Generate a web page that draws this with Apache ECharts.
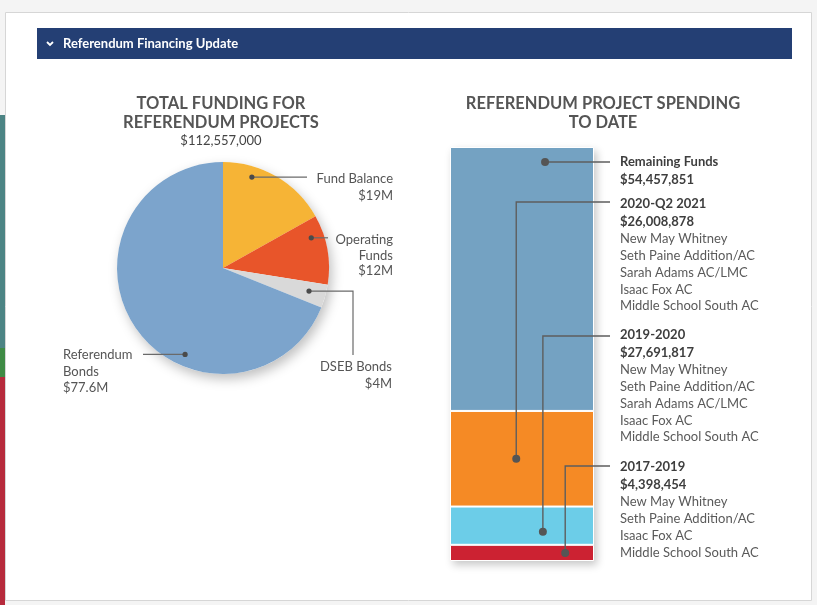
<!DOCTYPE html>
<html>
<head>
<meta charset="utf-8">
<script src="https://cdn.jsdelivr.net/npm/echarts@6/dist/echarts.min.js"></script>
<style>
html,body{margin:0;padding:0;background:#f4f4f4;}
#chart{width:817px;height:605px;}
</style>
</head>
<body>
<div id="chart"></div>
<script>
// ---------------- data ----------------
const pageTitle = 'Referendum Financing Update';
const pieTitle = ['TOTAL FUNDING FOR', 'REFERENDUM PROJECTS'];
const pieTotalText = '$112,557,000';
const fundingNames = ['Fund Balance', 'Operating Funds', 'DSEB Bonds', 'Referendum Bonds'];
const fundingValues = [19, 12, 4, 77.6];            // $M
const fundingLabels = [
  ['Fund Balance', '$19M'],
  ['Operating', 'Funds', '$12M'],
  ['DSEB Bonds', '$4M'],
  ['Referendum', 'Bonds', '$77.6M']
];
const barTitle = ['REFERENDUM PROJECT SPENDING', 'TO DATE'];
// stacked bar, bottom to top
const spendNames = ['2017-2019', '2019-2020', '2020-Q2 2021', 'Remaining Funds'];
const spendBarValues = [4.4, 10.4, 26.0, 71.75];    // segment heights as drawn ($M)
const spendAmounts = ['$4,398,454', '$27,691,817', '$26,008,878', '$54,457,851'];
const spendProjects = [
  ['New May Whitney', 'Seth Paine Addition/AC', 'Isaac Fox AC', 'Middle School South AC'],
  ['New May Whitney', 'Seth Paine Addition/AC', 'Sarah Adams AC/LMC', 'Isaac Fox AC', 'Middle School South AC'],
  ['New May Whitney', 'Seth Paine Addition/AC', 'Sarah Adams AC/LMC', 'Isaac Fox AC', 'Middle School South AC'],
  []
];

// ---------------- layout / style ----------------
const FONT = 'Lato, "Open Sans", sans-serif';
const pieColors = ['#F6B436', '#E8552A', '#D9D9D9', '#7CA4CC'];
const barColors = ['#CC2232', '#6CCDE8', '#F58A25', '#74A2C2'];
const PIE = { cx: 223, cy: 268, r: 106 };
const GRID = { left: 450, top: 147, width: 144, bottom: 44 };
// anchor of each pie annotation inside its slice and where its text sits
const pieAnno = [
  { frac: 0.29, rr: 0.90, lineTo: [[307, null]], tx: 393, ty: [179, 196], align: 'right' },
  { frac: 0.27, rr: 0.88, lineTo: [[328, null]], tx: 393, ty: [240, 255.5, 271], align: 'right' },
  { frac: 0.46, rr: 0.84, lineTo: [[353, null], [353, 355]], tx: 392, ty: [367, 383.5], align: 'right' },
  { frac: 0.37, rr: 0.89, lineTo: [[143, null]], tx: 63, ty: [355, 371.5, 388], align: 'left' }
];
// bar annotations (bottom to top)
const barAnno = [
  { fx: 0.80, fTop: 0.50, lineY: 466, textY: 467 },
  { fx: 0.645, fTop: 0.66, lineY: 336, textY: 335 },
  { fx: 0.46, fTop: 0.50, lineY: 202, textY: 204 },
  { fx: 0.66, fTop: 0.057, lineY: null, textY: 162 }
];
const LINE_END_X = 610, TEXT_X = 620, LH = 16.8;

const chart = echarts.init(document.getElementById('chart'), null, { renderer: 'canvas' });
const barTotal = spendBarValues.reduce((a, b) => a + b, 0);

const stackSeries = spendNames.map((n, i) => ({
  name: n,
  type: 'bar',
  stack: 'spend',
  barWidth: '100%',
  barGap: '-100%',
  z: 3,
  data: [spendBarValues[i]],
  itemStyle: { color: barColors[i], borderColor: '#ffffff', borderWidth: 1 },
  silent: true
}));

chart.setOption({
  backgroundColor: 'transparent',
  animation: false,
  textStyle: { fontFamily: FONT },
  grid: { left: GRID.left, top: GRID.top, width: GRID.width, bottom: GRID.bottom },
  xAxis: { type: 'category', data: ['spending'], show: false },
  yAxis: { type: 'value', min: 0, max: barTotal, show: false },
  series: [
    {
      type: 'pie', center: [PIE.cx, PIE.cy], radius: PIE.r, silent: true, z: 1,
      label: { show: false }, labelLine: { show: false },
      data: [{ value: 1, itemStyle: { color: '#ffffff', shadowBlur: 12, shadowOffsetX: 3, shadowOffsetY: 5, shadowColor: 'rgba(0,0,0,0.25)' } }]
    },
    {
      type: 'pie', center: [PIE.cx, PIE.cy], radius: PIE.r, startAngle: 90, clockwise: true,
      silent: true, z: 2, label: { show: false }, labelLine: { show: false },
      data: fundingNames.map((n, i) => ({ name: n, value: fundingValues[i], itemStyle: { color: pieColors[i] } }))
    },
    {
      type: 'bar', barWidth: '100%', barGap: '-100%', z: 2, silent: true,
      data: [barTotal],
      itemStyle: { color: '#ffffff', shadowBlur: 8, shadowOffsetX: 3, shadowOffsetY: 4, shadowColor: 'rgba(0,0,0,0.22)' }
    }
  ].concat(stackSeries)
});

// ---------------- annotations ----------------
const g = [];
// page frame
g.push({ type: 'rect', shape: { x: 0, y: 115, width: 5, height: 233 }, style: { fill: '#4C8484' }, z: 0 });
g.push({ type: 'rect', shape: { x: 0, y: 348, width: 5, height: 29 }, style: { fill: '#3F8B45' }, z: 0 });
g.push({ type: 'rect', shape: { x: 0, y: 377, width: 5, height: 228 }, style: { fill: '#B62A3C' }, z: 0 });
g.push({ type: 'rect', shape: { x: 5.5, y: 12.5, width: 806, height: 588 }, style: { fill: '#ffffff', stroke: '#d6d6d6', lineWidth: 1 }, z: -1 });
// header bar
g.push({ type: 'rect', shape: { x: 37, y: 28, width: 755, height: 31 }, style: { fill: '#243F74' }, z: 1 });
g.push({ type: 'polyline', shape: { points: [[47, 42], [50, 45], [53, 42]] }, style: { stroke: '#ffffff', lineWidth: 1.8, fill: null }, z: 2 });
g.push({ type: 'text', x: 63, y: 44, z: 2, style: { text: pageTitle, fill: '#ffffff', font: 'bold 13px ' + FONT, verticalAlign: 'middle', align: 'left' } });

// titles
pieTitle.forEach((t, i) => g.push({ type: 'text', x: 221, y: 104 + i * 19, z: 2,
  style: { text: t, fill: '#555555', font: 'bold 16.5px ' + FONT, align: 'center', verticalAlign: 'middle' } }));
g.push({ type: 'text', x: 221, y: 141, z: 2, style: { text: pieTotalText, fill: '#444', font: '13px ' + FONT, align: 'center', verticalAlign: 'middle' } });
barTitle.forEach((t, i) => g.push({ type: 'text', x: 603, y: 104 + i * 18.5, z: 2,
  style: { text: t, fill: '#555555', font: 'bold 16.5px ' + FONT, align: 'center', verticalAlign: 'middle' } }));

// pie annotations
let cum = 0;
const pieSum = fundingValues.reduce((a, b) => a + b, 0);
fundingValues.forEach((v, i) => {
  const a0 = cum / pieSum * 360, a1 = (cum + v) / pieSum * 360;
  cum += v;
  const an = pieAnno[i];
  const th = (a0 + an.frac * (a1 - a0)) * Math.PI / 180;
  const px = PIE.cx + an.rr * PIE.r * Math.sin(th);
  const py = PIE.cy - an.rr * PIE.r * Math.cos(th);
  const pts = [[px, py]].concat(an.lineTo.map(p => [p[0], p[1] == null ? py : p[1]]));
  g.push({ type: 'polyline', z: 5, shape: { points: pts }, style: { stroke: '#6a6a6a', lineWidth: 1.2, fill: null } });
  g.push({ type: 'circle', z: 6, shape: { cx: px, cy: py, r: 2.6 }, style: { fill: '#4a4a4a' } });
  fundingLabels[i].forEach((t, k) => g.push({ type: 'text', x: an.tx, y: an.ty[k], z: 5,
    style: { text: t, fill: '#555', font: '13px ' + FONT, align: an.align, verticalAlign: 'middle' } }));
});

// bar annotations
let bcum = 0;
spendBarValues.forEach((v, i) => {
  const an = barAnno[i];
  const upper = bcum + v;
  bcum += v;
  const yVal = upper - an.fTop * v;
  const py = chart.convertToPixel({ yAxisIndex: 0 }, yVal);
  const px = GRID.left + an.fx * GRID.width;
  let pts;
  if (an.lineY == null) pts = [[px, py], [LINE_END_X, py]];
  else pts = [[LINE_END_X, an.lineY], [px, an.lineY], [px, py]];
  g.push({ type: 'polyline', z: 10, shape: { points: pts }, style: { stroke: '#5e5e5e', lineWidth: 1.4, fill: null } });
  g.push({ type: 'circle', z: 11, shape: { cx: px, cy: py, r: 4 }, style: { fill: '#555' } });
  g.push({ type: 'text', x: TEXT_X, y: an.textY, z: 10, style: { text: spendNames[i], fill: '#3e3e3e', font: 'bold 13px ' + FONT, verticalAlign: 'middle' } });
  g.push({ type: 'text', x: TEXT_X, y: an.textY + 17.5, z: 10, style: { text: spendAmounts[i], fill: '#3e3e3e', font: 'bold 13px ' + FONT, verticalAlign: 'middle' } });
  spendProjects[i].forEach((t, k) => g.push({ type: 'text', x: TEXT_X, y: an.textY + 35 + k * LH, z: 10,
    style: { text: t, fill: '#5a5a5a', font: '13px ' + FONT, verticalAlign: 'middle' } }));
});

chart.setOption({ graphic: { elements: g } });
</script>
</body>
</html>
